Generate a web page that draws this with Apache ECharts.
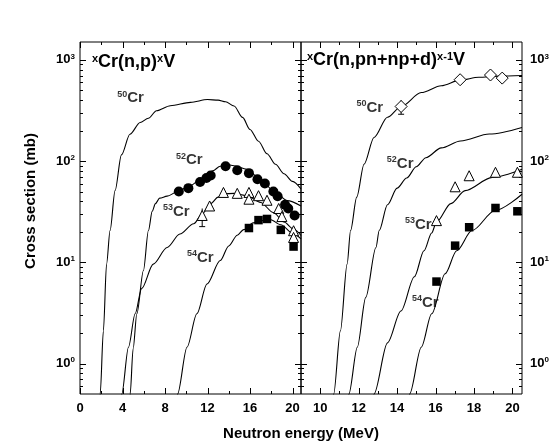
<!DOCTYPE html>
<html>
<head>
<meta charset="utf-8">
<script src="https://cdn.jsdelivr.net/npm/echarts@6/dist/echarts.min.js"></script>
<style>
html,body{margin:0;padding:0;background:#fff}
#main{width:554px;height:443px}
</style>
</head>
<body>
<div id="main"></div>
<script>
// ---- data: [neutron energy MeV, cross section mb] ----
// left panel: xCr(n,p)xV
var np50Curve = [[1.8,0.35],[1.9,0.5],[2.2,2.1],[2.5,9.6],[2.83,20.6],[3.3,51],[3.9,115],[4.7,184],[5.66,240],[6.44,265],[7.2,314],[8.5,352],[10.4,380],[12.0,405],[13.0,400],[13.7,385],[14.5,350],[15.3,270],[16.0,205],[16.8,157],[17.6,118],[18.4,93],[19.2,75],[20.0,63],[20.8,53]]
var np52Curve = [[4.65,0.35],[4.72,0.5],[5.0,1.4],[5.35,3.1],[5.97,8.3],[6.44,20.6],[6.8,32],[7.1,38],[7.5,43],[8.2,45],[9.2,50],[10.2,56],[11.5,67],[12.5,80],[13.2,89],[13.7,93],[14.5,90],[15.7,83],[17.0,66],[18.2,51],[19.5,40.7],[20.8,36]]
var np53Curve = [[3.85,0.35],[3.93,0.5],[4.56,1.45],[5.19,3.1],[5.8,5.5],[6.9,9.6],[8.2,14],[9.4,19],[10.7,24],[11.5,30],[12.3,38],[13.0,44],[13.5,47.4],[14.5,48],[15.7,45.5],[17.0,39],[18.2,31],[19.2,25],[20.1,21.3],[20.8,18.4]]
var np54Curve = [[9.1,0.35],[9.18,0.5],[10.07,1.45],[11.0,3.1],[11.95,6.1],[13.2,10.4],[14.0,14.5],[14.8,18.5],[15.4,21],[16.3,24.5],[17.0,25.8],[17.9,26.5],[18.9,23.5],[20.1,19.1],[20.8,17]]
var np52Exp = [[9.3,50],[10.2,54],[11.3,62],[11.9,68],[12.3,72],[13.7,89],[14.8,81],[15.9,76],[16.7,66],[17.4,60],[18.2,50],[18.6,45],[19.3,37],[19.6,34],[20.2,29]]
var np53Exp = [[11.5,29],[12.2,36],[13.5,49],[14.8,48],[15.9,49],[15.9,42],[16.8,45.5],[17.6,41],[18.7,34],[19.0,28.3],[20.1,20.5],[20.1,17.6]]
var np54Exp = [[15.9,21.8],[16.8,26.1],[17.6,26.8],[18.9,20.9],[20.1,14.3]]
var npErrBars = [[11.5,22.5,34]]
var npLabels = [[4.76,418,'50'],[10.28,102,'52'],[9.06,31.6,'53'],[11.32,11.1,'54']]

// right panel: xCr(n,pn+np+d)x-1V
var pn50Curve = [[10.65,0.4],[10.7,0.5],[11.05,2.1],[11.4,9.6],[11.58,20.6],[11.9,44],[12.28,93],[12.8,171],[13.5,271],[14.21,346],[15.26,475],[16.3,555],[17.28,630],[18.25,672],[19.3,690],[20.5,700]]
var pn52Curve = [[11.45,0.4],[11.49,0.5],[11.93,1.45],[12.37,4.5],[12.9,14],[13.07,20.6],[13.5,37],[14.0,54],[14.5,68],[15.0,88],[15.5,108],[16.3,135],[17.3,158],[18.8,185],[20.5,215]]
var pn53Curve = [[12.75,0.4],[12.8,0.5],[13.5,1.6],[14.2,3.3],[14.9,7.2],[15.4,13],[15.8,19.5],[16.05,25],[16.8,38],[17.54,51],[18.95,69],[20.5,83]]
var pn54Curve = [[14.6,0.4],[14.65,0.5],[15.26,1.45],[15.8,3.1],[16.5,7.7],[17.1,13],[17.9,20.6],[19.1,32.5],[20.5,47]]
var pn50Exp = [[14.21,346],[17.28,636],[18.86,708],[19.47,660]]
var pn53Exp = [[16.05,25.8],[17.02,55.7],[17.75,71.6],[19.12,77.5],[20.26,77.5]]
var pn54Exp = [[16.05,6.45],[17.02,14.6],[17.75,22.2],[19.12,34.4],[20.26,31.9]]
var pnErrBars = [[14.21,290,400]]
var pnLabels = [[12.58,337,'50'],[14.16,94.3,'52'],[15.1,23.6,'53'],[15.47,4.0,'54']]

// axis ticks
var yMajorTicks = [1,10,100,1000]
var yMinorTicks = [0.6,0.7,0.8,0.9,2,3,4,5,6,7,8,9,20,30,40,50,60,70,80,90,200,300,400,500,600,700,800,900]
var npXMajor = [0,4,8,12,16,20]
var npXMinor = [2,6,10,14,18]
var pnXMajor = [10,12,14,16,18,20]
var pnXMinor = [11,13,15,17,19]

var FONT = 'Liberation Sans, Arial, Helvetica, sans-serif'

// tick marks on all four sides of a panel
function tickData(xMajor, xMinor, xMid){
    var d = []
    yMajorTicks.forEach(v => d.push([xMid, v, 1]))
    yMinorTicks.forEach(v => d.push([xMid, v, 2]))
    xMajor.forEach(v => d.push([v, 10, 3]))
    xMinor.forEach(v => d.push([v, 10, 4]))
    return d
}
function renderTick(params, api){
    var cs = params.coordSys
    var kind = api.value(2)
    var p = api.coord([api.value(0), api.value(1)])
    var len = (kind === 1 || kind === 3) ? 6 : 3
    var st = {stroke:'#000', lineWidth:1}
    if (kind <= 2) {
        var y = Math.round(p[1]) + 0.5
        return {type:'group', children:[
            {type:'line', shape:{x1:cs.x, y1:y, x2:cs.x+len, y2:y}, style:st},
            {type:'line', shape:{x1:cs.x+cs.width-len, y1:y, x2:cs.x+cs.width, y2:y}, style:st}
        ]}
    }
    var x = Math.round(p[0]) + 0.5
    return {type:'group', children:[
        {type:'line', shape:{x1:x, y1:cs.y+cs.height, x2:x, y2:cs.y+cs.height-len}, style:st},
        {type:'line', shape:{x1:x, y1:cs.y, x2:x, y2:cs.y+len}, style:st}
    ]}
}
function renderErr(params, api){
    var lo = api.coord([api.value(0), api.value(1)])
    var hi = api.coord([api.value(0), api.value(2)])
    var st = {stroke:'#000', lineWidth:1}
    return {type:'group', children:[
        {type:'line', shape:{x1:lo[0], y1:lo[1], x2:hi[0], y2:hi[1]}, style:st},
        {type:'line', shape:{x1:lo[0]-3, y1:lo[1], x2:lo[0]+3, y2:lo[1]}, style:st}
    ]}
}

function curve(data, g){
    return {type:'line', xAxisIndex:g, yAxisIndex:g, data:data, showSymbol:false, smooth:0.3,
        smoothMonotone:'x', lineStyle:{color:'#000', width:1.1}, z:2}
}
function marks(data, g, symbol, size, filled){
    return {type:'scatter', xAxisIndex:g, yAxisIndex:g, data:data, symbol:symbol, symbolSize:size,
        itemStyle: filled ? {color:'#000', opacity:1} : {color:'#fff', borderColor:'#000', borderWidth:1, opacity:1}, z:4}
}
function labels(data, g){
    return {type:'scatter', xAxisIndex:g, yAxisIndex:g, data:data, symbolSize:0, z:5,
        label:{show:true, position:'inside', formatter: p => '{s|' + p.value[2] + '}{b|Cr}',
            rich:{s:{fontFamily:FONT, fontWeight:'bold', fontSize:9, lineHeight:9, verticalAlign:'top', color:'#000'},
                  b:{fontFamily:FONT, fontWeight:'bold', fontSize:15, lineHeight:17, color:'#000'}}}}
}

var supRich = {
    s:{fontFamily:FONT, fontWeight:'bold', fontSize:11, lineHeight:10, verticalAlign:'top', color:'#000'},
    b:{fontFamily:FONT, fontWeight:'bold', fontSize:18, lineHeight:19, color:'#000'}
}
var tickRich = {
    b:{fontFamily:FONT, fontWeight:'bold', fontSize:13, lineHeight:15, color:'#000'},
    s:{fontFamily:FONT, fontWeight:'bold', fontSize:8, lineHeight:8, verticalAlign:'top', color:'#000'}
}
function powLabel(v){
    return '{b|10}{s|' + Math.round(Math.log10(v)) + '}'
}

var yBase = {type:'log', logBase:10, min:0.5, max:1500, splitLine:{show:false},
    axisLine:{show:false}, axisTick:{show:false}}

var myChart = echarts.init(document.getElementById('main'), null, {renderer:'canvas'})
myChart.setOption({
    animation:false,
    backgroundColor:'#fff',
    grid:[
        {left:80, top:42, width:221, height:352, show:true, borderColor:'#000', borderWidth:1, outerBoundsMode:'none'},
        {left:301, top:42, width:221, height:352, show:true, borderColor:'#000', borderWidth:1, outerBoundsMode:'none'}
    ],
    title:[
        {text:'{s|x}{b|Cr(n,p)}{s|x}{b|V}', left:92, top:53, padding:0, textStyle:{rich:supRich}},
        {text:'{s|x}{b|Cr(n,pn+np+d)}{s|x-1}{b|V}', left:307, top:51, padding:0, textStyle:{rich:supRich}}
    ],
    xAxis:[
        {gridIndex:0, type:'value', min:0, max:20.8, interval:4, splitLine:{show:false}, axisLine:{show:false}, axisTick:{show:false},
            axisLabel:{showMaxLabel:false, margin:8, color:'#000', fontFamily:FONT, fontWeight:'bold', fontSize:13}},
        {gridIndex:1, type:'value', min:9, max:20.5, splitLine:{show:false}, axisLine:{show:false}, axisTick:{show:false},
            axisLabel:{customValues:pnXMajor, margin:8, color:'#000', fontFamily:FONT, fontWeight:'bold', fontSize:13}}
    ],
    yAxis:[
        Object.assign({gridIndex:0, position:'left',
            axisLabel:{showMinLabel:false, showMaxLabel:false, margin:5, formatter:powLabel, rich:tickRich}}, yBase),
        Object.assign({gridIndex:1, position:'right',
            axisLabel:{showMinLabel:false, showMaxLabel:false, margin:8, formatter:powLabel, rich:tickRich}}, yBase)
    ],
    graphic:[
        {type:'text', x:301, y:434, style:{text:'Neutron energy (MeV)', fill:'#000', font:'bold 15px ' + FONT, align:'center', verticalAlign:'middle'}},
        {type:'text', x:31, y:201, rotation:Math.PI/2, style:{text:'Cross section (mb)', fill:'#000', font:'bold 15px ' + FONT, align:'center', verticalAlign:'middle'}}
    ],
    series:[
        {type:'custom', xAxisIndex:0, yAxisIndex:0, data:tickData(npXMajor, npXMinor, 10), renderItem:renderTick, silent:true, z:1},
        {type:'custom', xAxisIndex:1, yAxisIndex:1, data:tickData(pnXMajor, pnXMinor, 15), renderItem:renderTick, silent:true, z:1},
        curve(np50Curve, 0), curve(np52Curve, 0), curve(np53Curve, 0), curve(np54Curve, 0),
        curve(pn50Curve, 1), curve(pn52Curve, 1), curve(pn53Curve, 1), curve(pn54Curve, 1),
        {type:'custom', xAxisIndex:0, yAxisIndex:0, data:npErrBars, renderItem:renderErr, z:3},
        {type:'custom', xAxisIndex:1, yAxisIndex:1, data:pnErrBars, renderItem:renderErr, z:3},
        marks(np52Exp, 0, 'circle', 10, true),
        marks(np53Exp, 0, 'triangle', 10, false),
        marks(np54Exp, 0, 'rect', 8.5, true),
        marks(pn50Exp, 1, 'diamond', 12, false),
        marks(pn53Exp, 1, 'triangle', 10, false),
        marks(pn54Exp, 1, 'rect', 8.5, true),
        labels(npLabels, 0), labels(pnLabels, 1)
    ]
})
</script>
</body>
</html>
